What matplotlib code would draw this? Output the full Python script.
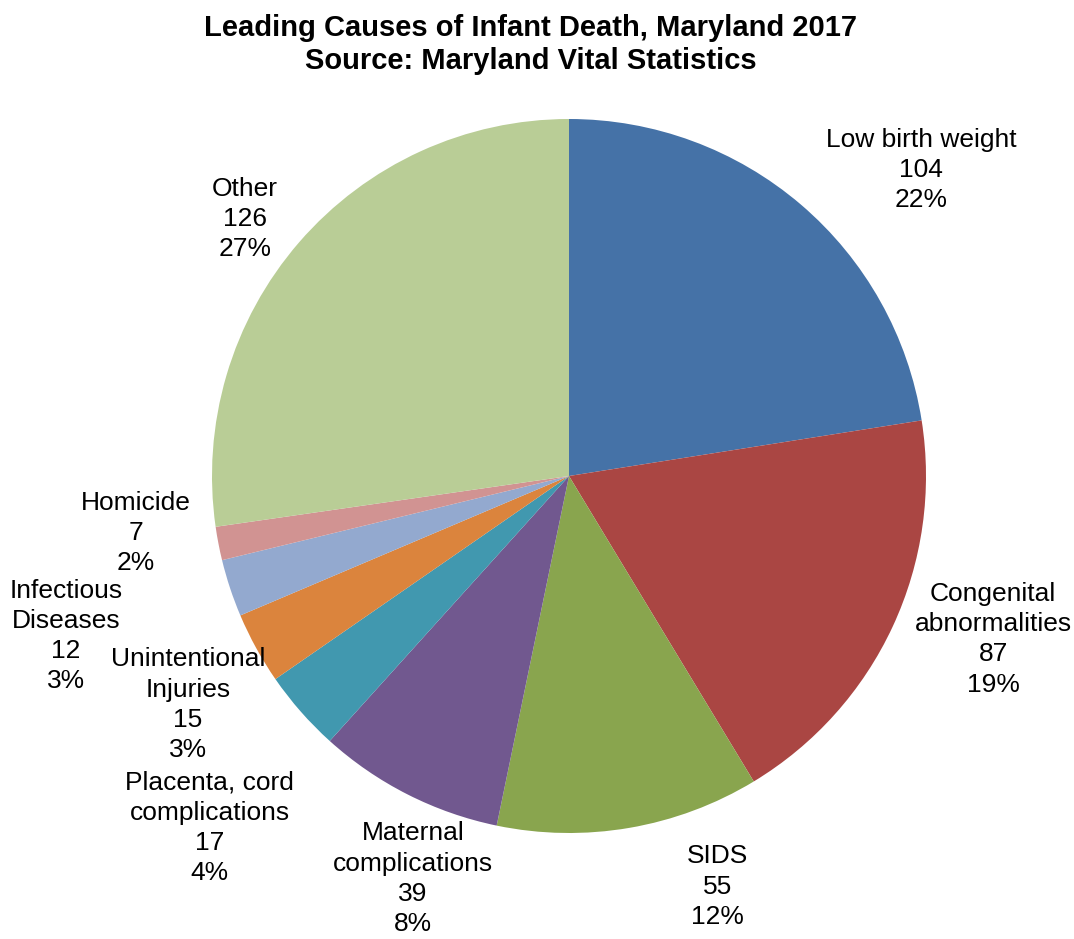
import matplotlib.pyplot as plt

plt.rcParams['font.family'] = ['Liberation Sans', 'DejaVu Sans']

# Data
causes = ["Low birth weight", "Congenital\nabnormalities", "SIDS",
          "Maternal\ncomplications", "Placenta, cord\ncomplications",
          "Unintentional\nInjuries", "Infectious\nDiseases", "Homicide", "Other"]
deaths = [104, 87, 55, 39, 17, 15, 12, 7, 126]
percents = ["22%", "19%", "12%", "8%", "4%", "3%", "3%", "2%", "27%"]
colors = ["#4572A7", "#AA4643", "#89A54E", "#71588F", "#4198AF",
          "#DB843D", "#93A9CF", "#D19392", "#B9CD96"]

# label anchor positions (pie radius = 1)
label_pos = [(0.986, 0.857), (1.188, -0.457), (0.417, -1.150),
             (-0.437, -1.128), (-1.006, -0.985), (-1.067, -0.641),
             (-1.409, -0.448), (-1.213, -0.160), (-0.908, 0.720)]

W, H = 1074, 939
cx, cy, r = 569, 476, 357

fig = plt.figure(figsize=(W / 100, H / 100), dpi=100)
ax = fig.add_axes([0, 0, 1, 1])
ax.pie(deaths, colors=colors, startangle=90, counterclock=False,
       radius=1, center=(0, 0), wedgeprops=dict(linewidth=0))
ax.set_xlim(-cx / r, (W - cx) / r)
ax.set_ylim(-(H - cy) / r, cy / r)
ax.set_aspect("equal")
ax.axis("off")

for name, n, p, (x, y) in zip(causes, deaths, percents, label_pos):
    ax.text(x, y, f"{name}\n{n}\n{p}", ha="center", va="center",
            fontsize=19, linespacing=1.33, color="black")

fig.text(531 / W, 1 - 44.5 / H,
         "Leading Causes of Infant Death, Maryland 2017\nSource: Maryland Vital Statistics",
         ha="center", va="center", fontsize=21, fontweight="bold", linespacing=1.2)

fig.savefig("out.png", dpi=100)
